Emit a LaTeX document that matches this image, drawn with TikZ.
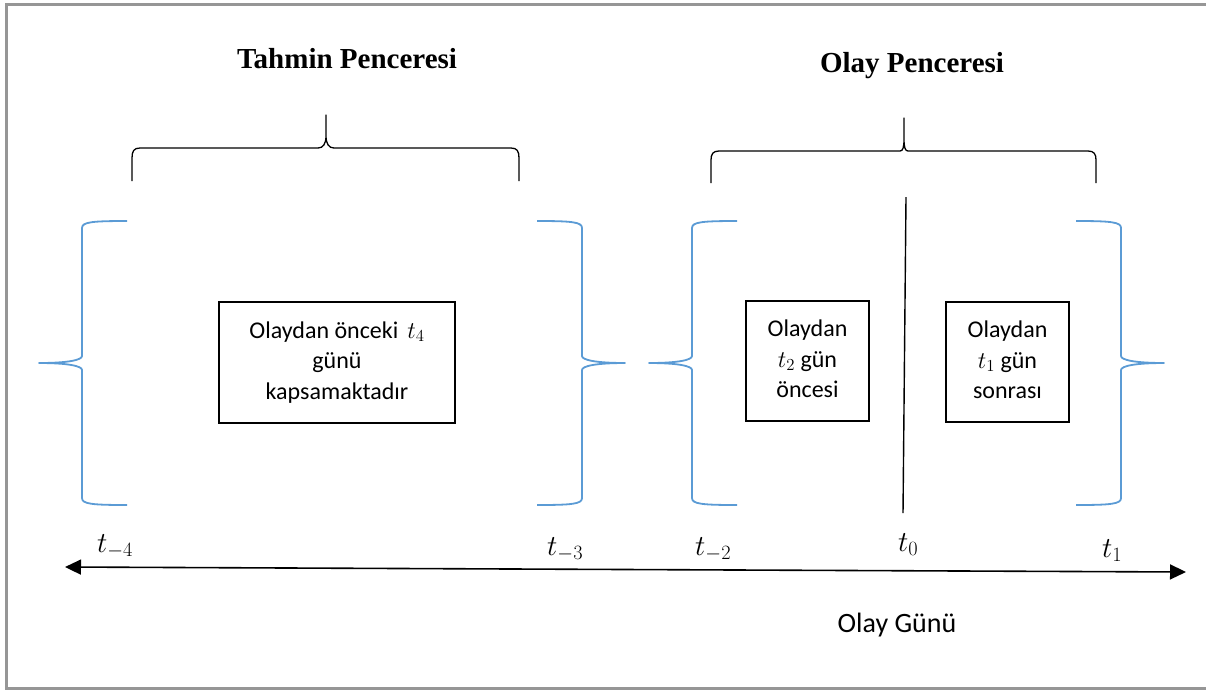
\RequirePackage{fix-cm}
\documentclass[tikz,border=0pt]{standalone}
\usepackage{fontspec}
\setmainfont{Liberation Serif}
\newfontfamily\bodyfont{Carlito}
\usetikzlibrary{arrows.meta}

\definecolor{framegray}{RGB}{150,150,150}
\definecolor{braceblue}{RGB}{91,155,213}

\tikzset{
  titletext/.style={font=\fontsize{29}{35}\selectfont\bfseries, anchor=base, inner sep=0pt},
  boxtext/.style={draw, line width=1.4pt, align=center, inner sep=0pt,
    font=\bodyfont\fontsize{24}{30.5}\selectfont},
  plaintext/.style={font=\bodyfont\fontsize{28}{34}\selectfont, anchor=base, inner sep=0pt},
  ticklabel/.style={font=\fontsize{29}{33}\selectfont, anchor=base west, inner sep=0pt},
  windowbrace/.style={line width=1.3pt, line join=round},
  periodbrace/.style={braceblue, line width=1.8pt, line join=round},
  timeaxis/.style={line width=1.6pt, {Triangle[length=16pt,width=15pt]}-{Triangle[length=16pt,width=15pt]}},
  pics/periodbrace/.style={code={
    \draw[periodbrace] (45,-142) .. controls (10,-142) and (0,-141) .. (0,-135)
      -- (0,-7) .. controls (0,-3) and (-14,0) .. (-43,0)
      .. controls (-14,0) and (0,3) .. (0,7)
      -- (0,135) .. controls (0,141) and (10,142) .. (45,142);
  }}
}

\begin{document}
\begin{tikzpicture}[x=1pt, y=-1pt]
  \useasboundingbox (0,0) rectangle (1206,689);
  % outer frame (right side runs past the page edge)
  \begin{scope}
    \clip (0,0) rectangle (1206,689);
    \draw[framegray, line width=3pt] (6,4) rectangle (1212,688.5);
  \end{scope}

  % window titles
  \node[titletext] (predtitle) at (347,68) {Tahmin Penceresi};
  \node[titletext] (eventtitle) at (912,72) {Olay Penceresi};

  % black braces grouping the windows
  \draw[windowbrace] (132,181) -- (132,158) .. controls (132,151) and (134,148) .. (140,148)
    -- (318,148) .. controls (323,148) and (326,144) .. (326,136) -- (326,115)
    -- (326,136) .. controls (326,144) and (329,148) .. (334,148)
    -- (511,148) .. controls (517,148) and (519,151) .. (519,158) -- (519,181);
  \draw[windowbrace] (711,183) -- (711,160) .. controls (711,154) and (713,151) .. (719,151)
    -- (900,151) .. controls (903,151) and (904,147) .. (904,139) -- (904,118)
    -- (904,139) .. controls (904,147) and (905,151) .. (908,151)
    -- (1088,151) .. controls (1094,151) and (1096,154) .. (1096,160) -- (1096,183);

  % blue braces around each period
  \pic at (82,363) {periodbrace};
  \pic[xscale=-1] at (582,363) {periodbrace};
  \pic at (692,363) {periodbrace};
  \pic[xscale=-1] at (1121,363) {periodbrace};

  % period descriptions
  \node[boxtext, minimum width=236pt, minimum height=121pt] (prebox) at (337,362.5)
    {\strut Olaydan önceki\hspace{9pt}$t_4$\\ \strut günü\\ \strut kapsamaktadır};
  \node[boxtext, minimum width=123pt, minimum height=120pt] (beforebox) at (807.5,361)
    {\strut Olaydan\\ \strut $t_2$ gün\\ \strut öncesi};
  \node[boxtext, minimum width=123pt, minimum height=120pt] (afterbox) at (1007.5,362)
    {\strut Olaydan\\ \strut $t_1$ gün\\ \strut sonrası};

  % event day marker
  \coordinate (eventtop) at (906,197);
  \coordinate (eventbottom) at (903,513);
  \draw[line width=1.4pt] (eventtop) -- (eventbottom);

  % time axis
  \coordinate (axisleft) at (65,567);
  \coordinate (axisright) at (1186,572);
  \draw[timeaxis] (axisleft) -- (axisright);

  \node[ticklabel] (tm4) at (97,552) {$t_{-4}$};
  \node[ticklabel] (tm3) at (547,555) {$t_{-3}$};
  \node[ticklabel] (tm2) at (695,555) {$t_{-2}$};
  \node[ticklabel] (tz) at (898,551) {$t_{0}$};
  \node[ticklabel] (tp1) at (1102,557) {$t_{1}$};

  \node[plaintext] (axislabel) at (897,632) {Olay Günü};
\end{tikzpicture}
\end{document}
